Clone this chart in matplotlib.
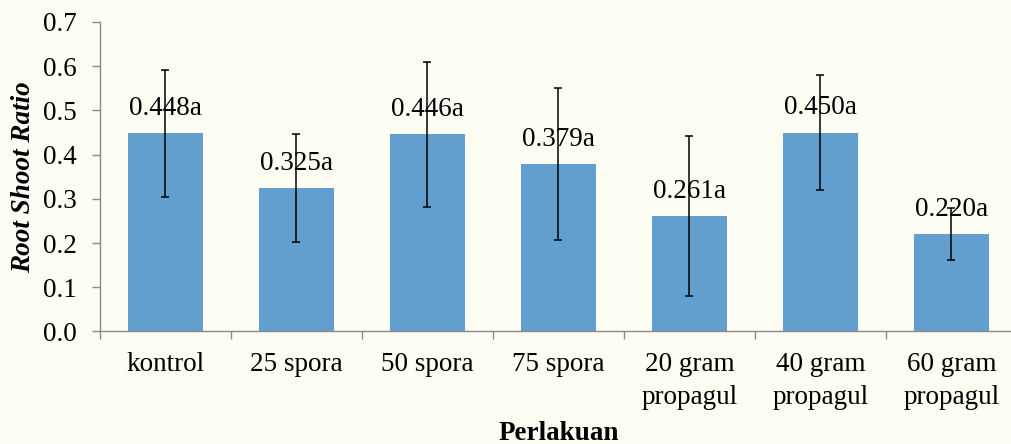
import matplotlib
matplotlib.use('Agg')
import matplotlib.pyplot as plt
import numpy as np

# data
perlakuan = ['kontrol', '25 spora', '50 spora', '75 spora',
             '20 gram\npropagul', '40 gram\npropagul', '60 gram\npropagul']
rasio = [0.448, 0.325, 0.446, 0.379, 0.261, 0.450, 0.220]
galat = [0.143, 0.122, 0.164, 0.171, 0.180, 0.129, 0.059]
notasi = ['a', 'a', 'a', 'a', 'a', 'a', 'a']

plt.rcParams['font.family'] = ['Liberation Serif', 'DejaVu Serif']
plt.rcParams['font.size'] = 19.5

bg = '#fdfdf3'
fig = plt.figure(figsize=(10.11, 4.44), dpi=100, facecolor=bg)
ax = fig.add_axes([0.0989, 0.2534, 0.907, 0.6971], facecolor=bg)

x = np.arange(len(perlakuan))
ax.bar(x, rasio, width=0.575, color='#629fcf', zorder=2)
ax.errorbar(x, rasio, yerr=galat, fmt='none', ecolor='black',
            elinewidth=1.1, capsize=3.0, capthick=1.1, zorder=3)

# value labels above the bars
for xi, v, n in zip(x, rasio, notasi):
    ax.annotate(f'{v:.3f}{n}', (xi, v), xytext=(0, 13),
                textcoords='offset points', ha='center', va='baseline',
                fontsize=19.5, zorder=4)

ax.set_xlim(-0.5, len(perlakuan) - 0.5)
ax.set_ylim(0, 0.7)
ax.set_yticks(np.arange(0, 0.71, 0.1))
ax.set_yticklabels([f'{t:.1f}' for t in np.arange(0, 0.71, 0.1)])

ax.set_xticks(x)
ax.set_xticklabels(perlakuan, linespacing=1.4)
ax.set_xticks(np.arange(-0.5, len(perlakuan)), minor=True)
ax.tick_params(axis='x', which='major', length=0, pad=15)
ax.tick_params(axis='x', which='minor', length=6, color='#8a8a8a', width=1)
ax.tick_params(axis='y', length=6, color='#8a8a8a', width=1, pad=11)

for side in ['top', 'right']:
    ax.spines[side].set_visible(False)
for side in ['left', 'bottom']:
    ax.spines[side].set_color('#8a8a8a')
    ax.spines[side].set_linewidth(1)

ax.text(-0.083, 0.5, 'Root Shoot Ratio', transform=ax.transAxes,
        rotation=90, ha='center', va='center', fontsize=19.5,
        fontweight='bold', fontstyle='italic')
ax.text(0.5, -0.35, 'Perlakuan', transform=ax.transAxes,
        ha='center', va='baseline', fontsize=19.5, fontweight='bold')

fig.savefig('out.png', dpi=100, facecolor=bg)
